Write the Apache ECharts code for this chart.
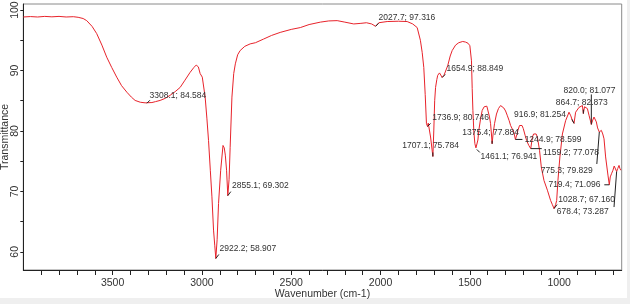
<!DOCTYPE html>
<html>
<head>
<meta charset="utf-8">
<script src="https://cdn.jsdelivr.net/npm/echarts@6/dist/echarts.min.js"></script>
<style>html,body{margin:0;padding:0;background:#fff}#c{width:630px;height:304px}</style>
</head>
<body>
<div id="c"></div>
<script>
// Spectrum: wavenumber (cm-1) and transmittance (%)
const wavenumbers = [4000,3960,3920,3880,3840,3800,3760,3720,3693,3665,3645,3615,3589,3560,3533,3505,3477,3450,3420,3395,3374,3345,3318,3308.1,3280,3260,3234,3205,3178,3150,3122,3095,3066,3045,3032,3020,3010,2998,2991,2982,2972,2963,2953,2944,2935,2928,2922.2,2915,2907,2895,2882,2875,2869,2862,2855.1,2848,2842,2832,2822,2813,2800,2786,2760,2730,2700,2655,2610,2562,2500,2449,2400,2337,2290,2243,2200,2150,2110,2079,2050,2027.7,2010,1963,1900,1851,1820,1795,1777,1767,1758,1750,1743,1740,1736.9,1733,1728,1720,1712,1707.1,1702,1697,1692,1685,1680,1670,1664,1660,1654.9,1645,1635,1624,1610,1599,1580,1562,1540,1524,1510,1500,1491,1487,1483,1478,1472,1466,1461.1,1455,1450,1440,1431,1420,1412,1405,1399,1390,1384,1378,1375.4,1370,1362,1351,1340,1328,1318,1310,1300,1291,1280,1272,1262,1254,1244.9,1237,1231,1222,1216,1208,1201,1190,1182,1170,1159.2,1150,1143,1136,1129,1122,1110,1100,1085,1066,1048,1038,1028.7,1020,1014,1007,996,982,964,945,935,926,916.9,908,889,880,870,864.7,858,852,842,833,826,820,812,805,798,792,785,775.3,770,764,756,749,740,727,719.4,714,706,699,692,686,678.4,672,665,660,655,650];
const transmittance = [98.85,98.92,98.85,98.95,98.88,98.95,98.85,98.9,98.8,98.6,98.25,97.3,96.1,94.2,92.2,90.5,88.9,87.5,86.4,85.6,85.05,84.75,84.65,84.584,84.7,84.85,85.05,85.4,85.9,86.5,87.2,88.4,89.7,90.5,90.9,90.6,89.5,88.9,88.6,85.6,82,78.4,73.5,69.1,63.6,61,58.907,62,68.0,73.5,77.6,77.2,76.0,73.5,69.302,72,77.3,85.6,89.5,91.1,92.6,93.3,94.0,94.4,94.6,95.2,95.8,96.3,96.8,97.1,97.6,98.0,98.2,98.25,98.0,97.7,97.8,97.9,97.7,97.316,97.9,98.1,98.15,98.1,97.7,97.1,95.0,93,90.5,86,81.2,80.9,80.746,81.3,81.0,79,77,75.784,80,85,87.2,88.5,89.2,89.6,89.7,89.3,88.849,89.2,89.5,90.8,92.4,93.3,94.2,94.6,94.8,94.7,94.5,94.1,91.6,87,83.4,80,77.9,77.2,76.941,78.5,80.1,82,83.4,84.0,84.2,84.1,83.9,82.3,81.2,79,77.884,79.5,81.2,82.8,83.7,84.2,84.1,83.8,83.3,82.6,81.7,80.9,80.3,79.8,78.599,79.4,80.1,80.9,81.2,80.9,80.4,79.2,78.4,77.6,77.076,79.0,79.5,79.8,79.5,79.0,76.8,74.0,71.8,70.2,68.5,67.8,67.16,67.8,68.5,71.8,75.7,79.5,81.7,83.1,82.5,81.7,81.254,83.1,83.9,83.7,84.2,82.873,84.0,84.2,83.7,82.6,81.8,81.077,81.8,82.3,82.0,81.5,80.5,79.829,80.0,80.1,79.5,78.7,75.7,72.7,71.096,72.4,73.0,73.5,74.2,74.0,73.287,73.8,74.3,73.8,73.5,73.9];

// Peak annotations
const peakWavenumbers = [3308.1,2922.2,2855.1,2027.7,1736.9,1707.1,1654.9,1461.1,1375.4,1244.9,1159.2,1028.7,916.9,864.7,820.0,775.3,719.4,678.4];
const peakValues = [84.584,58.907,69.302,97.316,80.746,75.784,88.849,76.941,77.884,78.599,77.078,67.160,81.254,82.873,81.077,79.829,71.096,73.287];

// Axis ticks
const xLabelValues = [1000,1500,2000,2500,3000,3500];
const xTickValues = [700,800,900,1000,1100,1200,1300,1400,1500,1600,1700,1800,1900,2000,2100,2200,2300,2400,2500,2600,2700,2800,2900,3000,3100,3200,3300,3400,3500,3600,3700,3800,3900];
const yLabelValues = [60,70,80,90,100];
const yTickValues = [60,65,70,75,80,85,90,95,100];

// Label placement (pixel offsets from the peak): text [dx,dy], leader end [dx,dy]
const labelOffsets = [[2.6,-7.8],[3.7,-10],[4.2,-9.7],[3,-9],[4.7,-8.7],[-30.7,-10.4],[4.3,-8.7],[3.8,7.6],[-29.8,-11.1],[9.2,0.3],[12.2,4.5],[4.3,-9.3],[-60,-9],[-27.6,-10.5],[-27.9,-34],[-58.6,38.4],[-60.9,0],[-59.9,39.8]];
const leaderEnds = [[3,-3],[3,-4],[3,-4],[3,-3],[3,-3],[0,-4],[3,-3],[3,3],[0,-3],[7,0],[11,0],[3,-4],[-2,-4],[0,-4],[0,-30],[-2.5,32],[-5,0],[-2.6,35.5]];

const spectrum = wavenumbers.map((w, i) => [w, transmittance[i]]);
const peaks = peakWavenumbers.map((w, i) => [w, peakValues[i]]);

const chart = echarts.init(document.getElementById('c'), null, {renderer: 'canvas'});
const font = 'Arial, "Liberation Sans", sans-serif';
chart.setOption({
  animation: false,
  backgroundColor: '#fff',
  graphic: [
    {type: 'rect', z: -10, shape: {x: 0, y: 298, width: 630, height: 6}, style: {fill: '#efefef'}},
    {type: 'rect', z: -10, shape: {x: 627, y: 0, width: 3, height: 304}, style: {fill: '#efefef'}}
  ],
  grid: {left: 23.3, right: 8.3, top: 4, bottom: 34, show: true, borderColor: '#8a8a8a', borderWidth: 1, backgroundColor: 'transparent', outerBoundsMode: 'none', containLabel: false},
  xAxis: {
    type: 'value', min: 650, max: 4000, inverse: true,
    name: 'Wavenumber (cm-1)', nameLocation: 'middle', nameGap: 19, nameMoveOverlap: false,
    nameTextStyle: {fontSize: 10.5, color: '#333', fontFamily: font},
    axisLine: {show: true, lineStyle: {color: '#222', width: 1}},
    axisTick: {show: true, customValues: xTickValues, length: 5, inside: false, lineStyle: {color: '#222'}},
    axisLabel: {customValues: xLabelValues, fontSize: 10.5, color: '#333', fontFamily: font, margin: 8, formatter: v => String(v)},
    splitLine: {show: false}
  },
  yAxis: {
    type: 'value', min: 57, max: 101,
    name: 'Transmittance', nameLocation: 'middle', nameGap: 13, nameRotate: 90, nameMoveOverlap: false,
    nameTextStyle: {fontSize: 10.5, color: '#333', fontFamily: font},
    axisLine: {show: true, lineStyle: {color: '#222', width: 1}},
    axisTick: {show: true, customValues: yTickValues, length: 3, lineStyle: {color: '#222'}},
    axisLabel: {customValues: yLabelValues, rotate: 90, fontSize: 10.5, color: '#333', fontFamily: font, margin: 3, formatter: v => String(v)},
    splitLine: {show: false}
  },
  series: [
    {
      type: 'line', data: spectrum, showSymbol: false, symbol: 'none',
      lineStyle: {color: '#e8232b', width: 1}, smooth: false, z: 2
    },
    {
      type: 'custom', data: peaks, clip: false, z: 3,
      renderItem: function (params, api) {
        const p = api.coord([api.value(0), api.value(1)]);
        const o = labelOffsets[params.dataIndex];
        const l = leaderEnds[params.dataIndex];
        const w = peakWavenumbers[params.dataIndex];
        const t = peakValues[params.dataIndex];
        return {
          type: 'group',
          children: [
            {type: 'line', shape: {x1: p[0], y1: p[1], x2: p[0] + l[0], y2: p[1] + l[1]}, style: {stroke: '#222', lineWidth: 1}},
            {type: 'text', x: p[0] + o[0], y: p[1] + o[1], style: {text: w.toFixed(1) + '; ' + t.toFixed(3), fill: '#333', font: '8.5px ' + font, textAlign: 'left', textVerticalAlign: 'middle'}}
          ]
        };
      }
    }
  ]
});
</script>
</body>
</html>
